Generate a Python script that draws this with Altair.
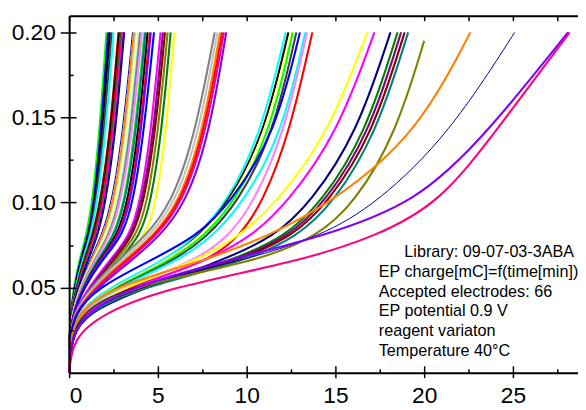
import altair as alt
import pandas as pd

# charge levels (y) at which the time of each curve was read
levels = [0.0, 0.02, 0.035, 0.05, 0.065, 0.08, 0.10, 0.14, 0.20]

# time [min] at which each electrode reaches the levels above
curve_times = [
    # fast group
    [0.0, 0.02, 0.08, 0.25, 0.55, 0.95, 1.30, 1.70, 2.10],
    [0.0, 0.02, 0.10, 0.30, 0.60, 1.05, 1.40, 1.78, 2.20],
    [0.0, 0.02, 0.10, 0.32, 0.65, 1.10, 1.45, 1.85, 2.30],
    [0.0, 0.02, 0.11, 0.35, 0.70, 1.15, 1.50, 1.95, 2.40],
    [0.0, 0.02, 0.11, 0.36, 0.72, 1.20, 1.58, 2.05, 2.50],
    [0.0, 0.02, 0.12, 0.40, 0.80, 1.30, 1.75, 2.30, 2.78],
    [0.0, 0.02, 0.12, 0.42, 0.85, 1.40, 1.85, 2.38, 2.85],
    [0.0, 0.02, 0.12, 0.43, 0.87, 1.42, 1.88, 2.42, 2.90],
    [0.0, 0.02, 0.13, 0.45, 0.90, 1.45, 1.92, 2.46, 2.95],
    [0.0, 0.03, 0.14, 0.50, 0.95, 1.50, 1.96, 2.50, 3.00],
    [0.0, 0.03, 0.14, 0.50, 0.97, 1.55, 2.00, 2.55, 3.05],
    [0.0, 0.03, 0.15, 0.52, 1.00, 1.60, 2.05, 2.60, 3.10],
    [0.0, 0.03, 0.16, 0.55, 1.10, 1.80, 2.40, 3.00, 3.57],
    [0.0, 0.03, 0.17, 0.60, 1.20, 1.90, 2.50, 3.10, 3.65],
    [0.0, 0.03, 0.18, 0.60, 1.25, 2.00, 2.60, 3.20, 3.75],
    [0.0, 0.03, 0.18, 0.62, 1.28, 2.05, 2.65, 3.26, 3.82],
    [0.0, 0.03, 0.20, 0.65, 1.35, 2.20, 2.80, 3.40, 3.95],
    [0.0, 0.03, 0.20, 0.66, 1.36, 2.22, 2.84, 3.45, 4.00],
    [0.0, 0.03, 0.20, 0.70, 1.40, 2.30, 2.90, 3.55, 4.10],
    [0.0, 0.03, 0.22, 0.75, 1.50, 2.50, 3.10, 3.70, 4.25],
    [0.0, 0.03, 0.22, 0.76, 1.52, 2.55, 3.15, 3.76, 4.30],
    [0.0, 0.03, 0.22, 0.80, 1.60, 2.70, 3.30, 3.90, 4.42],
    [0.0, 0.03, 0.23, 0.80, 1.65, 2.80, 3.40, 4.00, 4.55],
    [0.0, 0.03, 0.23, 0.82, 1.68, 2.85, 3.45, 4.05, 4.60],
    [0.0, 0.03, 0.24, 0.85, 1.75, 3.00, 3.60, 4.20, 4.78],
    [0.0, 0.04, 0.25, 1.10, 2.20, 3.40, 4.00, 4.60, 5.15],
    [0.0, 0.04, 0.26, 1.20, 2.30, 3.50, 4.10, 4.75, 5.28],
    [0.0, 0.04, 0.27, 1.30, 2.40, 3.60, 4.20, 4.85, 5.40],
    [0.0, 0.04, 0.28, 1.40, 2.50, 3.80, 4.40, 5.00, 5.55],
    [0.0, 0.04, 0.29, 1.50, 2.70, 4.00, 4.60, 5.20, 5.72],
    [0.0, 0.04, 0.30, 1.70, 3.00, 4.30, 4.90, 5.45, 5.93],
    # group ending near 8.5 min
    [0.0, 0.04, 0.25, 1.20, 2.60, 4.30, 5.80, 7.10, 8.20],
    [0.0, 0.04, 0.27, 1.30, 2.80, 4.50, 6.00, 7.30, 8.35],
    [0.0, 0.05, 0.30, 1.40, 3.00, 4.70, 6.20, 7.50, 8.50],
    [0.0, 0.05, 0.30, 1.50, 3.10, 4.80, 6.30, 7.60, 8.62],
    [0.0, 0.05, 0.30, 1.50, 3.20, 4.90, 6.40, 7.70, 8.72],
    [0.0, 0.05, 0.32, 1.60, 3.40, 5.10, 6.60, 7.90, 8.85],
    # group ending near 13 min
    [0.0, 0.06, 0.40, 2.20, 5.20, 7.20, 8.90, 10.80, 12.20],
    [0.0, 0.06, 0.40, 2.40, 5.50, 7.30, 9.00, 11.00, 12.35],
    [0.0, 0.06, 0.40, 2.40, 5.40, 7.40, 9.10, 11.10, 12.50],
    [0.0, 0.07, 0.45, 2.50, 5.60, 7.60, 9.30, 11.30, 12.60],
    [0.0, 0.07, 0.45, 2.60, 5.80, 7.80, 9.50, 11.50, 12.80],
    [0.0, 0.05, 0.30, 1.60, 4.40, 7.20, 9.10, 11.60, 13.00],
    [0.0, 0.07, 0.50, 2.70, 6.00, 8.10, 9.80, 12.00, 13.30],
    [0.0, 0.07, 0.50, 2.90, 7.00, 9.00, 10.40, 12.10, 13.40],
    [0.0, 0.08, 0.60, 3.20, 7.80, 9.60, 10.90, 12.40, 13.70],
    # group ending near 18 min
    [0.0, 0.10, 0.60, 3.00, 7.00, 9.60, 11.70, 14.60, 16.80],
    [0.0, 0.10, 0.70, 3.50, 7.60, 10.30, 12.30, 15.10, 17.20],
    [0.0, 0.12, 0.90, 4.30, 8.40, 11.60, 13.60, 16.20, 18.10],
    [0.0, 0.12, 0.80, 3.90, 9.00, 12.20, 14.20, 16.70, 18.50],
    [0.0, 0.12, 0.80, 3.80, 9.20, 12.40, 14.40, 16.90, 18.70],
    [0.0, 0.12, 0.85, 3.90, 9.40, 12.60, 14.60, 17.10, 18.90],
    [0.0, 0.12, 0.85, 4.00, 9.80, 12.90, 14.90, 17.30, 19.10],
    # slow electrodes
    [0.0, 0.10, 0.60, 3.00, 10.50, 14.00, 16.10, 18.40, None],
    [0.0, 0.08, 0.50, 2.30, 7.40, 11.20, 14.80, 19.60, 22.60],
    [0.0, 0.10, 0.70, 3.00, 9.50, 14.20, 17.40, 21.40, 25.10],
    [0.0, 0.12, 0.90, 3.40, 8.50, 14.30, 19.60, 23.50, 28.10],
    [0.0, 0.20, 1.90, 5.60, 12.80, 17.30, 20.90, 23.90, 28.20],
]
# last reading of curves that stop before 0.20 (time, charge)
curve_last_point = {53: (20.0, 0.195)}

curve_colors = [
    "#00ff00", "#0000ff", "#000000", "#404040", "#00ffff", "#800000", "#000000",
    "#ff0000", "#008000", "#ff0080", "#ff00ff", "#000080", "#0000a0", "#ff8000",
    "#c0c0c0", "#ffff80", "#80ffff", "#808080", "#ff80ff", "#00ff00", "#008080",
    "#000000", "#ff0000", "#8000ff", "#0000ff", "#ff00ff", "#800080", "#800000",
    "#808000", "#008000", "#ffff00",
    "#808080", "#c0c0c0", "#ff8000", "#ff0000", "#ff0080", "#8000ff",
    "#00ffff", "#000000", "#ffff80", "#00ff00", "#404040", "#0000ff", "#00ffff",
    "#ff80ff", "#ff0000",
    "#ffff00", "#ff00ff", "#000080", "#008000", "#800080", "#800000", "#008080",
    "#808000", "#ff8000", "#0000a0", "#8000ff", "#ff0080",
]
thin_curves = [12, 55]

notes = [
    "EP charge[mC]=f(time[min])",
    "Accepted electrodes: 66",
    "EP potential 0.9 V",
    "reagent variaton",
    "Temperature 40°C",
]
title_note = "Library: 09-07-03-3ABA"

x_major = [0, 5, 10, 15, 20, 25]
x_minor = [2.5, 7.5, 12.5, 17.5, 22.5, 27.5]
x_all = [0, 2.5, 5, 7.5, 10, 12.5, 15, 17.5, 20, 22.5, 25, 27.5]
y_major = [0.05, 0.10, 0.15, 0.20]
y_minor = [0.025, 0.075, 0.125, 0.175]

rows = []
for i, times in enumerate(curve_times):
    w = 1.0 if i in thin_curves else 2.1
    for lv, t in zip(levels, times):
        if t is not None:
            rows.append({"id": i, "t": t, "q": lv, "w": w})
    if i in curve_last_point:
        t, q = curve_last_point[i]
        rows.append({"id": i, "t": t, "q": q, "w": w})
df = pd.DataFrame(rows)
ids = list(range(len(curve_times)))

W, H = 516, 362
xs = alt.Scale(domain=[0, 28.667], nice=False, zero=False)
ys = alt.Scale(domain=[0, 0.2098], nice=False, zero=False)

FONT = "Liberation Sans"
common = dict(grid=False, title=None, domainColor="black", tickColor="black",
              labelColor="black", labelFont=FONT, labelFontSize=23,
              domainWidth=2, tickWidth=1.5, zindex=1)

main = alt.Chart(df).mark_line(interpolate="basis").encode(
    x=alt.X("t:Q", scale=xs, axis=alt.Axis(orient="bottom", values=x_major, tickSize=5,
                                           labelPadding=7, **common)),
    y=alt.Y("q:Q", scale=ys, axis=alt.Axis(orient="left", values=y_major, format=".2f",
                                           tickSize=9, labelPadding=5, **common)),
    color=alt.Color("id:N", scale=alt.Scale(domain=ids, range=curve_colors), legend=None),
    strokeWidth=alt.StrokeWidth("w:Q", scale=None),
    detail="id:N",
)

def tick_layer(xaxis, yaxis):
    return alt.Chart(df).mark_line(strokeOpacity=0).encode(
        x=alt.X("t:Q", scale=xs, axis=xaxis),
        y=alt.Y("q:Q", scale=ys, axis=yaxis),
        detail="id:N",
    )

inner_major = tick_layer(
    alt.Axis(orient="top", offset=-H, values=x_major, tickSize=7, labels=False, domain=False, **common),
    alt.Axis(orient="right", offset=-W, values=y_major, tickSize=7, labels=False, domain=False, **common),
)
inner_minor = tick_layer(
    alt.Axis(orient="top", offset=-H, values=x_minor, tickSize=4, labels=False, domain=False, **common),
    alt.Axis(orient="right", offset=-W, values=y_minor, tickSize=4, labels=False, domain=False, **common),
)
top_frame = tick_layer(
    alt.Axis(orient="bottom", offset=-H, values=x_all, tickSize=5, labels=False, domain=True, **common),
    None,
)

text_layers = [
    alt.Chart(pd.DataFrame({"s": [title_note]})).mark_text(
        align="right", baseline="middle", font=FONT, fontSize=16.4, color="black"
    ).encode(x=alt.value(512), y=alt.value(240), text="s:N")
]
for k, line in enumerate(notes):
    text_layers.append(
        alt.Chart(pd.DataFrame({"s": [line]})).mark_text(
            align="left", baseline="middle", font=FONT, fontSize=16.4, color="black"
        ).encode(x=alt.value(314), y=alt.value(260 + 20 * k), text="s:N")
    )

chart = alt.layer(main, inner_major, inner_minor, top_frame, *text_layers).resolve_axis(
    x="independent", y="independent"
).properties(
    width=W, height=H,
    autosize=alt.AutoSizeParams(type="none"),
    padding={"left": 62, "top": 5, "right": 0, "bottom": 35},
).configure_view(stroke=None)

chart.save("out.html", embed_options={"renderer": "svg", "actions": False})
